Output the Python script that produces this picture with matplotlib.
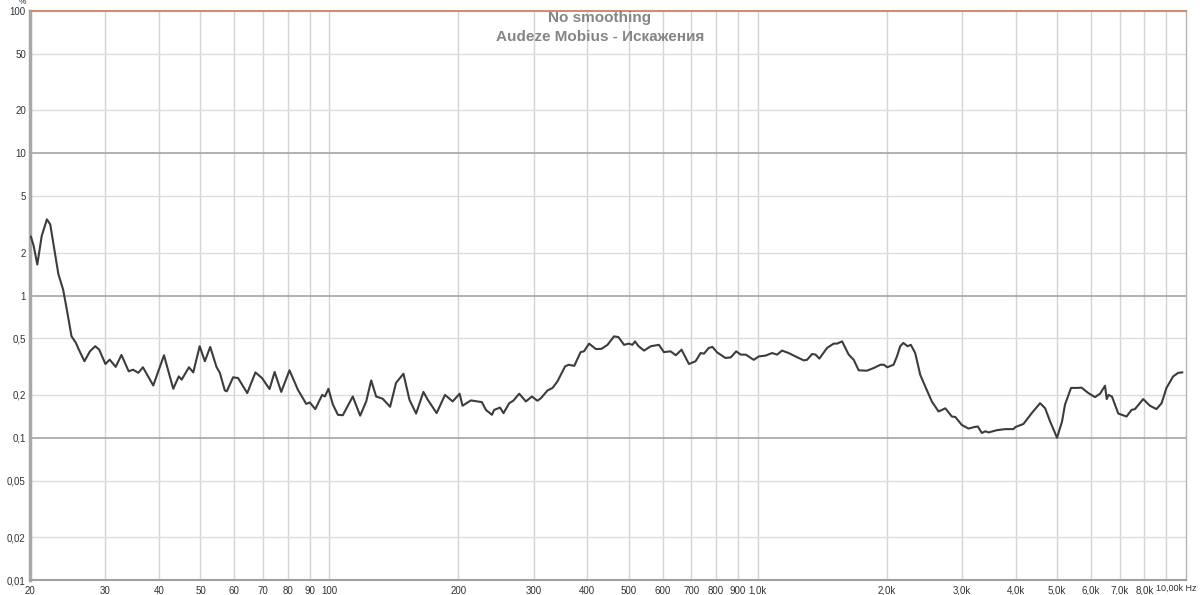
import numpy as np
import matplotlib.pyplot as plt

# distortion curve (Hz, %)
freq = [20.1, 20.4, 20.8, 21.3, 21.9, 22.3, 22.8, 23.3, 23.9, 24.3, 25.0, 25.6, 26.0, 26.8,
        27.6, 28.4, 29.0, 30.0, 30.7, 31.7, 32.7, 34.0, 34.8, 35.8, 36.7, 38.8, 41.1, 43.2,
        44.5, 45.2, 47.0, 48.1, 49.8, 51.2, 52.7, 54.5, 55.5, 57.0, 57.6, 59.6, 61.2, 64.3,
        67.2, 69.6, 72.5, 74.5, 77.2, 80.7, 84.4, 88.3, 90.0, 92.7, 96.2, 97.6, 99.5, 101.9,
        104.7, 107.5, 113.4, 118, 121.9, 125.2, 128.6, 133.2, 138.6, 143.1, 148.9, 153.8,
        159.4, 165.8, 169.7, 178, 186.2, 194, 201.4, 204.6, 214, 227, 232, 239.6, 242.6,
        250.2, 255, 263, 268.7, 277.5, 287.6, 297, 306, 312, 323, 332, 340.8, 355, 362, 373,
        386, 393, 404, 419, 432, 446, 462, 473, 487.6, 500, 510, 517, 527, 543, 563, 588,
        604, 626, 644, 664, 691, 716, 736, 749, 769, 784, 804, 841, 865, 891, 913, 938, 979,
        1006, 1043, 1081, 1110, 1140, 1181, 1225, 1281, 1304, 1340, 1365, 1393, 1452, 1505,
        1533, 1574, 1631, 1676, 1721, 1798, 1870, 1934, 1970, 2007, 2076, 2114, 2152, 2188,
        2238, 2278, 2332, 2396, 2462, 2550, 2644, 2742, 2840, 2893, 2996, 3106, 3207, 3265,
        3337, 3399, 3462, 3615, 3782, 3954, 4000, 4173, 4364, 4564, 4690, 4817, 5000, 5135,
        5218, 5390, 5558, 5706, 5917, 6131, 6300, 6470, 6530, 6590, 6715, 6948, 7264, 7464,
        7600, 7944, 8236, 8532, 8770, 9003, 9334, 9590, 9800]
dist = [2.59, 2.23, 1.65, 2.62, 3.43, 3.16, 2.11, 1.41, 1.10, 0.84, 0.517, 0.464, 0.417, 0.345,
        0.405, 0.44, 0.417, 0.33, 0.354, 0.315, 0.382, 0.293, 0.301, 0.286, 0.313, 0.233, 0.38, 0.221,
        0.27, 0.256, 0.313, 0.288, 0.44, 0.345, 0.435, 0.315, 0.286, 0.215, 0.212, 0.266, 0.263, 0.206,
        0.288, 0.263, 0.22, 0.29, 0.21, 0.298, 0.218, 0.173, 0.177, 0.159, 0.2, 0.195, 0.221, 0.171,
        0.145, 0.144, 0.195, 0.143, 0.18, 0.253, 0.195, 0.188, 0.165, 0.243, 0.282, 0.185,
        0.148, 0.21, 0.185, 0.149, 0.2, 0.18, 0.204, 0.168, 0.183, 0.178, 0.157, 0.145, 0.157,
        0.163, 0.149, 0.175, 0.182, 0.204, 0.18, 0.195, 0.182, 0.19, 0.215, 0.224, 0.249, 0.317, 0.326, 0.32,
        0.40, 0.405, 0.459, 0.42, 0.422, 0.45, 0.516, 0.51, 0.45, 0.459, 0.45, 0.476, 0.44, 0.41, 0.44, 0.45,
        0.40, 0.405, 0.38, 0.416, 0.33, 0.345, 0.394, 0.39, 0.428, 0.435, 0.398, 0.364, 0.367, 0.405, 0.384, 0.384, 0.353,
        0.373, 0.378, 0.394, 0.384, 0.41, 0.394, 0.373, 0.35, 0.353, 0.388, 0.384, 0.36, 0.428, 0.459,
        0.459, 0.476, 0.384, 0.353, 0.298, 0.296, 0.31, 0.326, 0.326, 0.313, 0.326, 0.373, 0.44, 0.464,
        0.44, 0.45, 0.394, 0.277, 0.229, 0.18, 0.153, 0.161, 0.141, 0.14, 0.123, 0.116, 0.119, 0.12,
        0.108, 0.111, 0.109, 0.113, 0.115, 0.115, 0.119, 0.125, 0.149, 0.175, 0.161, 0.13, 0.1, 0.13,
        0.171, 0.224, 0.224, 0.225, 0.206, 0.193, 0.204, 0.232, 0.187, 0.2, 0.195, 0.148, 0.141, 0.157,
        0.159, 0.187, 0.168, 0.159, 0.175, 0.224, 0.27, 0.286, 0.288]

xticks = [20, 30, 40, 50, 60, 70, 80, 90, 100, 200, 300, 400, 500, 600, 700, 800, 900,
          1000, 2000, 3000, 4000, 5000, 6000, 7000, 8000, 9000]
xlabels = ['20', '30', '40', '50', '60', '70', '80', '90', '100', '200', '300', '400', '500',
           '600', '700', '800', '900', '1,0k', '2,0k', '3,0k', '4,0k', '5,0k', '6,0k', '7,0k',
           '8,0k', '']
yticks = [0.01, 0.02, 0.05, 0.1, 0.2, 0.5, 1, 2, 5, 10, 20, 50, 100]
ylabels = ['0,01', '0,02', '0,05', '0,1', '0,2', '0,5', '1', '2', '5', '10', '20', '50', '100']
ymajor = [0.1, 1, 10]

plt.rcParams['font.family'] = ['Liberation Sans', 'DejaVu Sans']

fig = plt.figure(figsize=(12, 5.95), dpi=100)
ax = fig.add_axes([30 / 1200, 1 - 580 / 595, 1156 / 1200, 569 / 595])
ax.set_xscale('log')
ax.set_yscale('log')
ax.set_xlim(20, 10000)
ax.set_ylim(0.01, 100)

for x in xticks[1:]:
    ax.axvline(x, color='#d4d4d4', lw=1, zorder=1)
for y in yticks[1:-1]:
    if y in ymajor:
        ax.axhline(y, color='#a4a4a4', lw=1.2, zorder=1)
    else:
        ax.axhline(y, color='#dcdcdc', lw=1, zorder=1)

ax.plot(freq, dist, color='#3c3c3c', lw=1.5, zorder=3)

ax.set_xticks(xticks)
ax.set_xticklabels(xlabels)
ax.set_yticks(yticks)
ax.set_yticklabels(ylabels)
ax.minorticks_off()
ax.tick_params(length=0, labelsize=7, colors='#333333', pad=3)
ax.tick_params(axis='x', pad=4)

ax.spines['left'].set_color('#a8a8a8')
ax.spines['left'].set_linewidth(2.5)
ax.spines['bottom'].set_color('#a0a0a0')
ax.spines['bottom'].set_linewidth(1.5)
ax.spines['top'].set_color('#c8926e')
ax.spines['top'].set_linewidth(1.5)
ax.spines['right'].set_color('#b4b4b4')
ax.spines['right'].set_linewidth(1)

ax.text(8500, -0.007, '10,00k Hz', transform=ax.get_xaxis_transform(), ha='left', va='top',
        fontsize=6.5, color='#333333')
fig.text(22 / 1200, 1 - 3 / 595, '%', fontsize=6, color='#333333', ha='center', va='center')

fig.text(0.5, 1 - 18 / 595, 'No smoothing', ha='center', va='center', fontsize=11,
         fontweight='bold', color='#858585')
fig.text(0.5, 1 - 37 / 595, 'Audeze Mobius - Искажения', ha='center', va='center',
         fontsize=11, fontweight='bold', color='#858585')

fig.savefig('out.png', dpi=100)
